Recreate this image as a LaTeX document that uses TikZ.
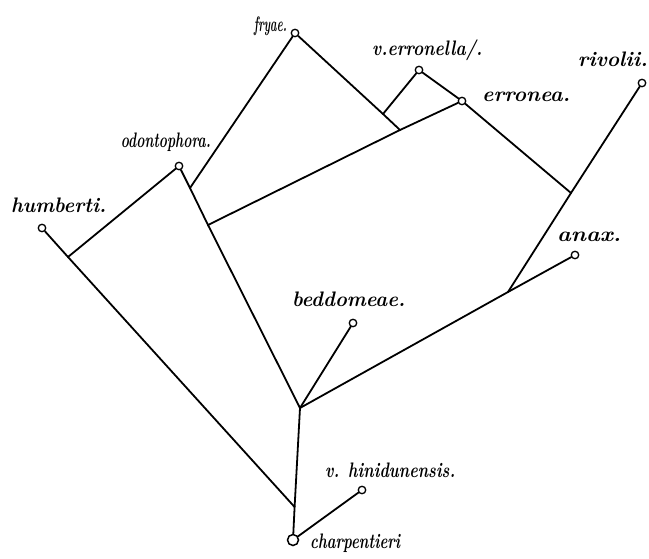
\documentclass[tikz,border=0pt]{standalone}
\usepackage{graphicx}
\newcommand{\lblw}[2]{\resizebox{#1}{\height}{#2}}
\begin{document}
\begin{tikzpicture}[x=1pt,y=-1pt,
  branch/.style={line width=1.8pt,line cap=round},
  tip/.style={circle,draw,line width=1.3pt,fill=white,inner sep=0pt,minimum size=7.5pt},
  root/.style={circle,draw,line width=1.5pt,fill=white,inner sep=0pt,minimum size=11pt},
  lbl/.style={inner sep=0pt,font=\fontsize{21}{22}\selectfont\bfseries\itshape}]
\useasboundingbox (0,0) rectangle (649,559);
\fill[white] (0,0) rectangle (649,559);
% junctions
\coordinate (j1) at (68,257);
\coordinate (jroot) at (294.6,507);
\coordinate (jmain) at (300,408);
\coordinate (jfr) at (190,188);
\coordinate (jer) at (208,225);
\coordinate (jfv) at (383,114);
\coordinate (jfe) at (400,130);
\coordinate (jr) at (571,193);
\coordinate (jan) at (508,292);
% tips
\node[tip] (F) at (295,33) {};
\node[tip] (V) at (419,70) {};
\node[tip] (E) at (462,101) {};
\node[tip] (R) at (642,83) {};
\node[tip] (O) at (179,166) {};
\node[tip] (H) at (42,228) {};
\node[tip] (A) at (575,255) {};
\node[tip] (B) at (353,323) {};
\node[tip] (Hi) at (362,490) {};
\node[root] (C) at (293,540) {};
% branches
\draw[branch] (H) -- (j1) -- (jroot);
\draw[branch] (j1) -- (O);
\draw[branch] (O) -- (jfr) -- (jer) -- (jmain);
\draw[branch] (jfr) -- (F);
\draw[branch] (F) -- (jfv) -- (jfe);
\draw[branch] (jer) -- (jfe) -- (E);
\draw[branch] (V) -- (jfv);
\draw[branch] (V) -- (E) -- (jr);
\draw[branch] (R) -- (jr) -- (jan);
\draw[branch] (jmain) -- (jan) -- (A);
\draw[branch] (jmain) -- (B);
\draw[branch] (jmain) -- (jroot) -- (C);
\draw[branch] (C) -- (Hi);
% labels
\node[lbl,anchor=base east] (lF) at (287,32) {\lblw{33pt}{fryae.}};
\node[lbl,anchor=base west] (lV) at (372,56) {\lblw{110pt}{v.erronella/.}};
\node[lbl,anchor=base west] (lE) at (482,102) {\lblw{88pt}{erronea.}};
\node[lbl,anchor=base east] (lR) at (648,67) {\lblw{70pt}{rivolii.}};
\node[lbl,anchor=base east] (lO) at (211,148) {\lblw{90pt}{odontophora.}};
\node[lbl,anchor=base west] (lH) at (11,213) {\lblw{95pt}{humberti.}};
\node[lbl,anchor=base west] (lA) at (557,242) {\lblw{64pt}{anax.}};
\node[lbl,anchor=base west] (lB) at (292,307) {\lblw{113pt}{beddomeae.}};
\node[lbl,anchor=base west] (lHi) at (325,477) {\lblw{130pt}{v. hinidunensis.}};
\node[lbl,anchor=base west] (lC) at (310,548) {\lblw{90pt}{charpentieri}};
\end{tikzpicture}
\end{document}
